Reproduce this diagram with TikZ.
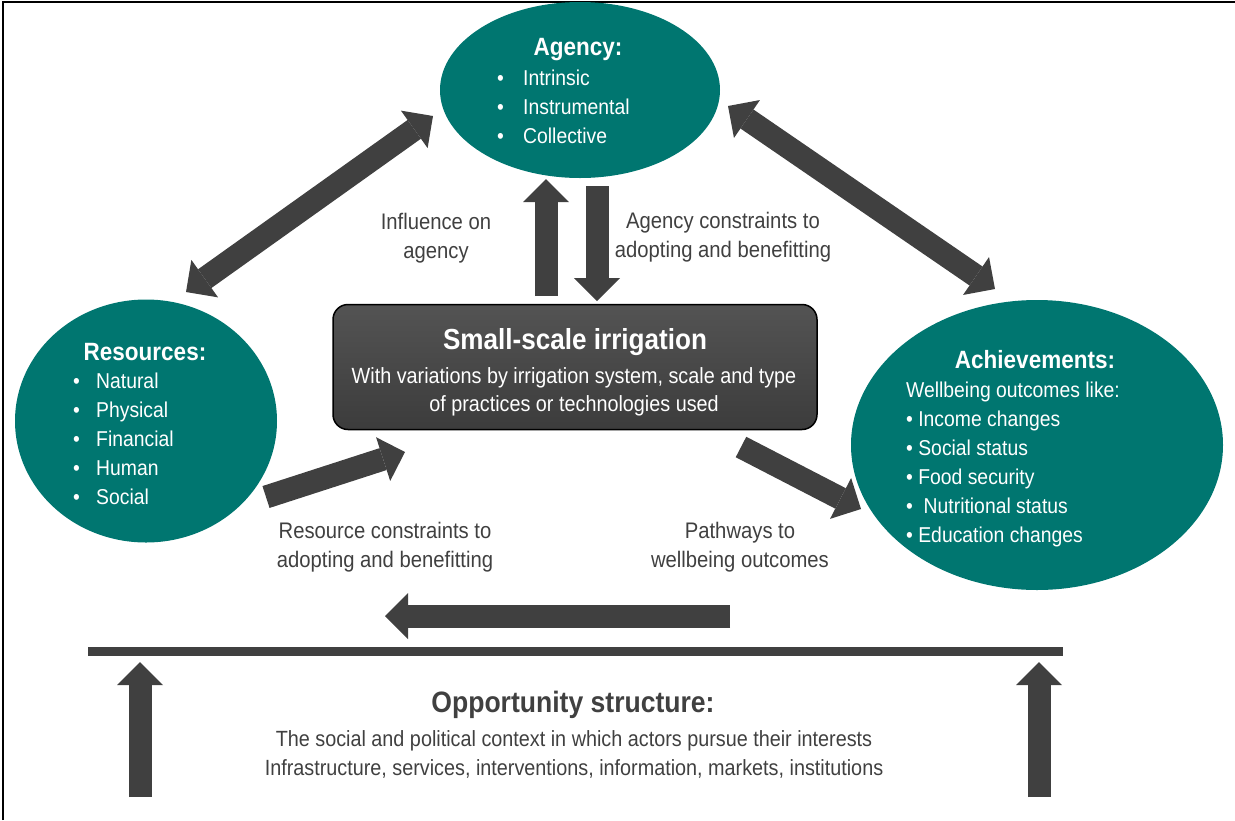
\documentclass[tikz,border=0pt]{standalone}
\usepackage{fontspec}
\setmainfont{Liberation Sans}[FakeStretch=0.9]
\usetikzlibrary{arrows.meta,shapes.geometric}

\definecolor{clrteal}{RGB}{0,118,112}
\definecolor{clrarrow}{RGB}{64,64,64}
\definecolor{clrbox}{RGB}{60,60,60}

\begin{document}
\begin{tikzpicture}[x=1pt,y=-1pt,
	blob/.style={ellipse,fill=clrteal,inner sep=0pt},
	heading/.style={text=white,font=\fontsize{25}{29}\selectfont\bfseries},
	listtext/.style={text=white,align=left,anchor=west,inner sep=0pt,font=\fontsize{21.5}{29}\selectfont},
	note/.style={text=clrarrow,align=center,inner sep=0pt,font=\fontsize{22.5}{29}\selectfont},
	fat/.style={line width=23pt,draw=clrarrow,-{Triangle[width=46pt,length=23pt,line width=0pt]}},
	fatboth/.style={line width=23pt,draw=clrarrow,{Triangle[width=46pt,length=23pt,line width=0pt]}-{Triangle[width=46pt,length=23pt,line width=0pt]}}]

\useasboundingbox (0,0) rectangle (1235,820);

% frame
\draw[line width=2pt] (3,820) -- (3,2) -- (1235,2);

\def\bul#1{\makebox[#1][l]{\textbullet}}

% the three ellipses
\node[blob,minimum width=280pt,minimum height=176pt] (agency) at (580,90) {};
\node[blob,minimum width=262pt,minimum height=243pt] (resources) at (146,421) {};
\node[blob,minimum width=372pt,minimum height=290pt] (achieve) at (1037,445) {};

\node[heading] (agencyhead) at (578,50) {Agency:};
\node[listtext] (agencylist) at (497,107) {\bul{26pt}Intrinsic\\\bul{26pt}Instrumental\\\bul{26pt}Collective};

\node[heading] (reshead) at (145,352) {Resources:};
\node[listtext] (reslist) at (73,439) {\bul{23pt}Natural\\\bul{23pt}Physical\\\bul{23pt}Financial\\\bul{23pt}Human\\\bul{23pt}Social};

\node[heading] (achhead) at (1035,360) {Achievements:};
\node[listtext] (achlist) at (906,464) {Wellbeing outcomes like:\\\textbullet{} Income changes\\\textbullet{} Social status\\\textbullet{} Food security\\\textbullet{}\ \ Nutritional status\\\textbullet{} Education changes};

% central box
\node[draw=black,line width=1.5pt,rounded corners=15pt,top color=clrbox!88!white,bottom color=clrbox,
	minimum width=484pt,minimum height=125pt] (ssi) at (575,367) {};
\node[text=white,font=\fontsize{29}{32}\selectfont\bfseries] (ssihead) at (575,342) {Small-scale irrigation};
\node[text=white,align=center,font=\fontsize{22}{28}\selectfont] (ssitext) at (574,392)
	{With variations by irrigation system, scale and type\\of practices or technologies used};

% arrow ends
\coordinate (ra1) at (186,292);
\coordinate (ra2) at (433,116);
\coordinate (aa1) at (728,106);
\coordinate (aa2) at (995,289);
\coordinate (iu1) at (546,296);
\coordinate (iu2) at (546,179);
\coordinate (cd1) at (597,186);
\coordinate (cd2) at (597,301);
\coordinate (ri1) at (266,497);
\coordinate (ri2) at (405,452);
\coordinate (ia1) at (741,447);
\coordinate (ia2) at (861,509);
\coordinate (lf1) at (730,616);
\coordinate (lf2) at (385,616);
\coordinate (barl) at (88,651);
\coordinate (barr) at (1063,651);
\coordinate (ul1) at (140,797);
\coordinate (ul2) at (140,662);
\coordinate (ur1) at (1039,797);
\coordinate (ur2) at (1039,662);

\draw[fatboth] (ra1) -- (ra2);
\draw[fatboth] (aa1) -- (aa2);
\draw[fat] (iu1) -- (iu2);
\draw[fat] (cd1) -- (cd2);
\draw[fat] (ri1) -- (ri2);
\draw[fat] (ia1) -- (ia2);
\draw[fat] (lf1) -- (lf2);
\draw[line width=9pt,draw=clrarrow] (barl) -- (barr);
\draw[fat] (ul1) -- (ul2);
\draw[fat] (ur1) -- (ur2);

% labels
\node[note] (infl) at (436,238) {Influence on\\agency};
\node[note] (agcon) at (723,237) {Agency constraints to\\adopting and benefitting};
\node[note] (rescon) at (385,547) {Resource constraints to\\adopting and benefitting};
\node[note] (path) at (740,547) {Pathways to\\wellbeing outcomes};

\node[text=clrarrow,font=\fontsize{29.5}{32}\selectfont\bfseries] (opphead) at (573,705) {Opportunity structure:};
\node[note,font=\fontsize{22}{29}\selectfont] (opptext) at (574,754)
	{The social and political context in which actors pursue their interests\\Infrastructure, services, interventions, information, markets, institutions};

\end{tikzpicture}
\end{document}
